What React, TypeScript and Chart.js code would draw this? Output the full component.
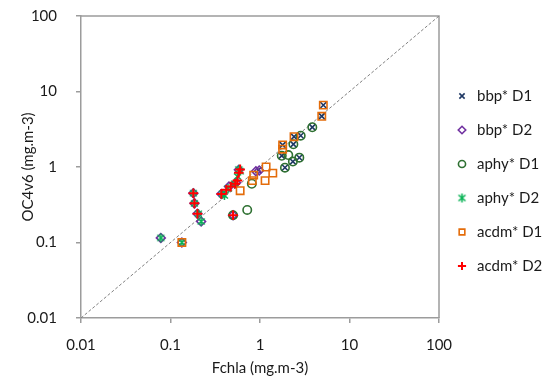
import React, { useEffect, useRef } from 'react';
import { Chart, registerables } from 'chart.js';
import { drawPoint } from 'chart.js/helpers';

Chart.register(...registerables);

// ---- data ----
const axisTicks = [0.01, 0.1, 1, 10, 100];
const seriesNames = ['bbp* D1', 'bbp* D2', 'aphy* D1', 'aphy* D2', 'acdm* D1', 'acdm* D2'];
const xTitle = 'Fchla (mg.m-3)';
const yTitle = 'OC4v6 (mg.m-3)';

const bbpD1 = [
  [5.1, 6.6], [4.9, 4.7], [3.84, 3.36], [2.85, 2.6], [2.4, 2.52], [2.36, 2.0],
  [1.79, 1.96], [1.75, 1.41], [2.75, 1.33], [2.33, 1.18], [1.9, 0.98], [0.96, 0.91],
];
const bbpD2 = [
  [0.078, 0.115], [0.134, 0.1], [0.18, 0.45], [0.185, 0.33], [0.2, 0.24], [0.22, 0.19],
  [0.37, 0.44], [0.5, 0.23], [0.45, 0.55], [0.54, 0.62], [0.58, 0.92], [0.9, 0.88], [0.98, 0.9],
];
const aphyD1 = [
  [3.84, 3.36], [2.85, 2.6], [2.36, 2.0], [1.75, 1.41], [2.07, 1.44], [2.75, 1.33],
  [2.33, 1.18], [1.9, 0.98], [0.81, 0.6], [0.72, 0.27], [0.5, 0.23],
];
const aphyD2 = [
  [0.078, 0.115], [0.134, 0.1], [0.18, 0.45], [0.185, 0.33], [0.205, 0.24], [0.22, 0.19],
  [0.38, 0.44], [0.44, 0.52], [0.52, 0.6], [0.58, 0.93], [0.6, 0.88], [0.56, 0.75], [0.4, 0.42],
];
const acdmD1 = [
  [5.1, 6.6], [4.9, 4.7], [2.4, 2.52], [1.79, 1.96], [1.79, 1.72], [1.17, 1.0],
  [1.39, 0.83], [1.14, 0.66], [0.85, 0.78], [0.82, 0.66], [0.6, 0.485], [0.134, 0.1],
];
const acdmD2 = [
  [0.18, 0.45], [0.185, 0.33], [0.2, 0.24], [0.5, 0.23], [0.37, 0.44], [0.42, 0.5],
  [0.47, 0.55], [0.53, 0.6], [0.56, 0.66], [0.6, 0.93], [0.58, 0.84],
];
const oneToOne = [[0.01, 0.01], [100, 100]];

const FONT = 'Lato, "Open Sans", sans-serif';
const AXIS_COLOR = '#9c9c9c';
const TEXT_COLOR = '#1a1a1a';

function makeAsterisk(color: string): HTMLCanvasElement {
  const c = document.createElement('canvas');
  c.width = 11;
  c.height = 11;
  const g = c.getContext('2d')!;
  g.strokeStyle = color;
  g.lineWidth = 1.5;
  g.beginPath();
  g.moveTo(5.5, 1); g.lineTo(5.5, 10);
  g.moveTo(2, 2.5); g.lineTo(9, 8.5);
  g.moveTo(9, 2.5); g.lineTo(2, 8.5);
  g.stroke();
  return c;
}

const toXY = (arr: number[][]) => arr.map(([x, y]) => ({ x, y }));

export default function App() {
  const ref = useRef<HTMLCanvasElement>(null);

  useEffect(() => {
    if (!ref.current) return;
    const asterisk = makeAsterisk('#00b050');

    const mk = (label: string, data: number[][], color: string, style: any, radius: number, bw: number, order: number) => ({
      type: 'scatter' as const,
      label,
      data: toXY(data),
      borderColor: color,
      backgroundColor: 'rgba(0,0,0,0)',
      pointStyle: style,
      pointRadius: radius,
      pointBorderWidth: bw,
      pointHoverRadius: radius,
      order,
    });

    const datasets: any[] = [
      mk(seriesNames[0], bbpD1, '#1f3864', 'crossRot', 4.4, 1.6, 6),
      mk(seriesNames[1], bbpD2, '#7030a0', 'rectRot', 4.4, 1.6, 5),
      mk(seriesNames[2], aphyD1, '#2e7031', 'circle', 4.2, 1.6, 4),
      mk(seriesNames[3], aphyD2, '#00b050', asterisk, 5, 1.5, 3),
      mk(seriesNames[4], acdmD1, '#e46c0a', 'rect', 5.2, 1.6, 2),
      mk(seriesNames[5], acdmD2, '#ff0000', 'cross', 4.8, 2, 1),
      {
        type: 'line',
        label: '1:1',
        data: toXY(oneToOne),
        borderColor: '#808080',
        borderWidth: 1,
        borderDash: [3, 2],
        pointRadius: 0,
        fill: false,
        order: 10,
      },
    ];

    const framePlugin = {
      id: 'frame',
      beforeDatasetsDraw(chart: any) {
        const { ctx, chartArea } = chart;
        ctx.save();
        ctx.strokeStyle = AXIS_COLOR;
        ctx.lineWidth = 1.5;
        ctx.beginPath();
        ctx.moveTo(chartArea.left, chartArea.top);
        ctx.lineTo(chartArea.right, chartArea.top);
        ctx.lineTo(chartArea.right, chartArea.bottom);
        ctx.stroke();
        ctx.restore();
      },
    };

    const legendPlugin = {
      id: 'sideLegend',
      afterDraw(chart: any) {
        const { ctx, chartArea } = chart;
        const mx = chartArea.right + 23;
        const tx = chartArea.right + 38;
        const y0 = 96;
        const step = 34;
        ctx.save();
        ctx.font = `15px ${FONT}`;
        ctx.textBaseline = 'middle';
        ctx.textAlign = 'left';
        chart.data.datasets.forEach((ds: any, i: number) => {
          if (i >= seriesNames.length) return;
          const y = y0 + i * step;
          ctx.strokeStyle = ds.borderColor;
          ctx.fillStyle = 'rgba(0,0,0,0)';
          ctx.lineWidth = ds.pointBorderWidth;
          drawPoint(ctx, {
            pointStyle: ds.pointStyle,
            rotation: 0,
            radius: ds.pointStyle === 'rect' ? 4 : ds.pointRadius * 0.85,
            borderWidth: ds.pointBorderWidth,
          } as any, mx, y);
          ctx.fillStyle = TEXT_COLOR;
          ctx.fillText(ds.label, tx, y);
        });
        ctx.restore();
      },
    };

    const tickCfg = {
      color: TEXT_COLOR,
      font: { family: FONT, size: 15 },
      autoSkip: false,
      maxRotation: 0,
      callback: (v: any) => String(v),
    };

    const chart = new Chart(ref.current, {
      type: 'scatter',
      data: { datasets },
      plugins: [framePlugin, legendPlugin],
      options: {
        animation: false,
        responsive: false,
        maintainAspectRatio: false,
        layout: { padding: { top: 16, right: 119, bottom: 0, left: 0 } },
        plugins: { legend: { display: false }, tooltip: { enabled: false } },
        scales: {
          x: {
            type: 'logarithmic',
            min: 0.01,
            max: 100,
            afterBuildTicks: (s: any) => { s.ticks = axisTicks.map((v) => ({ value: v })); },
            afterFit: (s: any) => { s.height = 64; s.paddingLeft = 0; s.paddingRight = 0; },
            ticks: { ...tickCfg, padding: 13 },
            grid: { drawOnChartArea: false, drawTicks: true, tickLength: 5, color: AXIS_COLOR, lineWidth: 1.5 },
            border: { display: true, color: AXIS_COLOR, width: 1.5 },
            title: { display: true, text: xTitle, color: TEXT_COLOR, font: { family: FONT, size: 15 }, padding: { top: 0, bottom: 5 } },
          },
          y: {
            type: 'logarithmic',
            min: 0.01,
            max: 100,
            afterBuildTicks: (s: any) => { s.ticks = axisTicks.map((v) => ({ value: v })); },
            afterFit: (s: any) => { s.width = 81; s.paddingTop = 0; s.paddingBottom = 0; },
            ticks: { ...tickCfg, padding: 19 },
            grid: { drawOnChartArea: false, drawTicks: true, tickLength: 5, color: AXIS_COLOR, lineWidth: 1.5 },
            border: { display: true, color: AXIS_COLOR, width: 1.5 },
            title: { display: true, text: yTitle, color: TEXT_COLOR, font: { family: FONT, size: 15 }, padding: { top: 19, bottom: 0 } },
          },
        },
      } as any,
    });
    return () => chart.destroy();
  }, []);

  return (
    <div style={{ position: 'fixed', left: 0, top: 0, width: 558, height: 382, background: '#fff' }}>
      <canvas ref={ref} width={558} height={382} style={{ width: 558, height: 382, display: 'block' }} />
    </div>
  );
}
